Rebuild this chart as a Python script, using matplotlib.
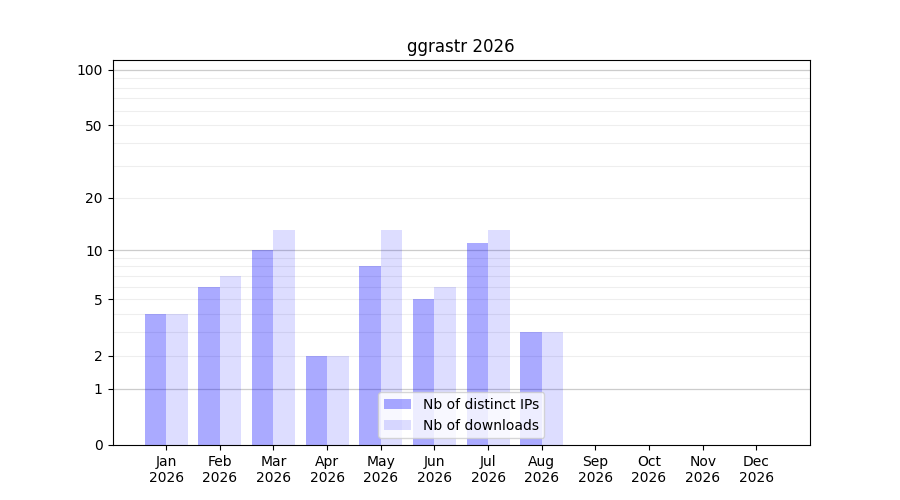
import numpy as np
import matplotlib
matplotlib.use("Agg")
import matplotlib.pyplot as plt

months = ["Jan", "Feb", "Mar", "Apr", "May", "Jun",
          "Jul", "Aug", "Sep", "Oct", "Nov", "Dec"]
year = 2026
ips = [4, 6, 10, 2, 8, 5, 11, 3]
downloads = [4, 7, 13, 2, 13, 6, 13, 3]
ytick_vals = [0, 1, 2, 5, 10, 20, 50, 100]


def fwd(y):
    return np.log10(1 + np.clip(y, 0, None))


def inv(y):
    return 10 ** y - 1


fig, ax = plt.subplots(figsize=(9, 5), dpi=100)
ax.set_yscale("function", functions=(fwd, inv))

x = np.arange(len(ips))
ax.bar(x, ips, width=-0.4, align="edge", color="blue", alpha=1 / 3,
       label="Nb of distinct IPs")
ax.bar(x, downloads, width=0.4, align="edge", color="blue", alpha=0.133,
       label="Nb of downloads")

minor = [v * d for d in (1, 10) for v in range(2, 10)]
for m in minor:
    ax.axhline(m, color="#eeeeee", lw=0.8, zorder=0)
for m in (1, 10, 100):
    ax.axhline(m, color="#cccccc", lw=0.9, zorder=0)

ax.set_yticks(ytick_vals)
ax.set_yticklabels([str(v) for v in ytick_vals])
ax.set_ylim(0, 113)
ax.set_xticks(np.arange(12))
ax.set_xticklabels([f"{m}\n{year}" for m in months])
ax.set_xlim(-1, 12)
ax.set_title(f"ggrastr {year}")
ax.legend(loc="lower center")

plt.savefig("out.png", dpi=100)
